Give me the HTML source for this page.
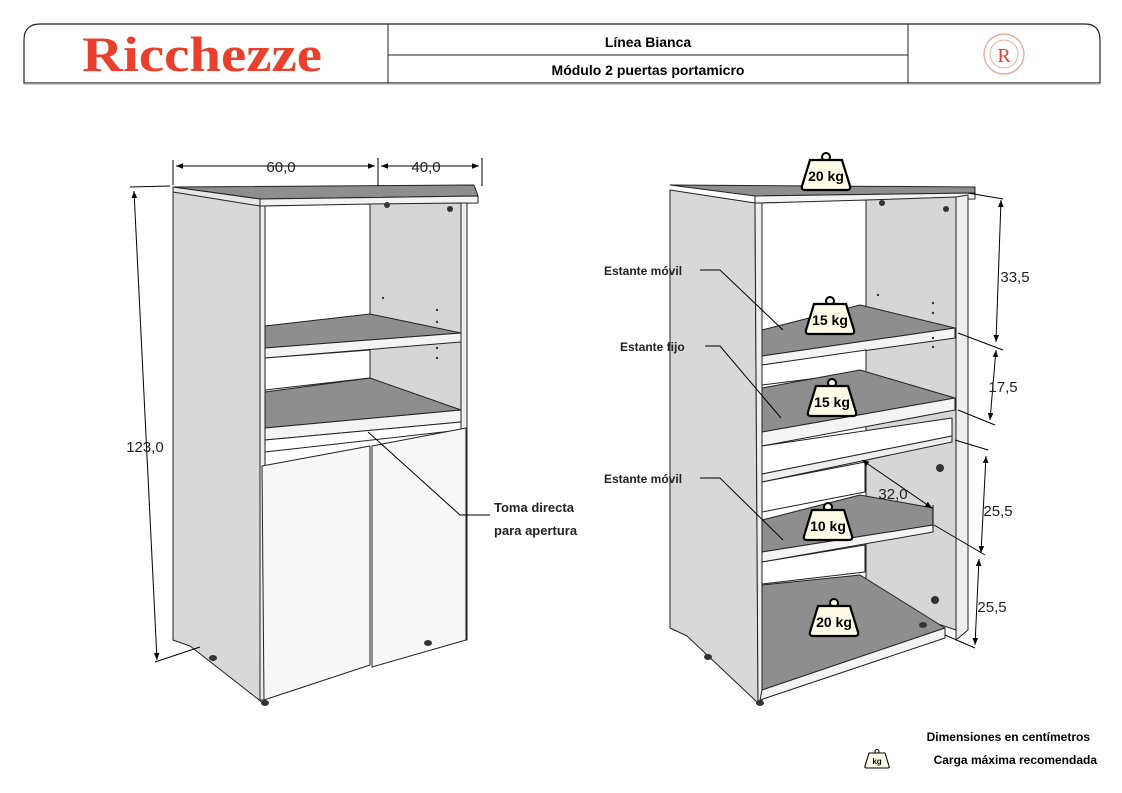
<!DOCTYPE html>
<html><head><meta charset="utf-8"><style>
html,body{margin:0;padding:0;background:#fff}
svg{display:block}
text{font-family:"Liberation Sans",sans-serif}
</style></head><body>
<svg width="1122" height="793" viewBox="0 0 1122 793" xmlns="http://www.w3.org/2000/svg">
<defs>
<marker id="ar" viewBox="0 0 10 10" refX="10" refY="5" markerWidth="7" markerHeight="7" orient="auto-start-reverse"><path d="M0,1 L10,5 L0,9 z" fill="#000"/></marker>
<g id="kg">
<circle cx="0" cy="-17" r="4" fill="#fffbe6" stroke="#000" stroke-width="2"/>
<path d="M-16,-14 L16,-14 L24,12 Q25,16 21,16 L-21,16 Q-25,16 -24,12 Z" fill="#fffbe6" stroke="#000" stroke-width="2.2"/>
</g>
</defs>
<!-- header -->
<path d="M40,24 H1085 Q1100,24 1100,40 V83 H24 V40 Q24,24 40,24 Z" fill="#fff" stroke="#222" stroke-width="1.2"/>
<line x1="388" y1="24" x2="388" y2="83" stroke="#222"/>
<line x1="908" y1="24" x2="908" y2="83" stroke="#222"/>
<line x1="388" y1="55" x2="908" y2="55" stroke="#222"/>
<line x1="24" y1="84" x2="1100" y2="84" stroke="#bbb" stroke-width="1.5"/>
<text x="82" y="71" font-size="50" font-weight="bold" fill="#e8402c" style="font-family:'Liberation Serif',serif" textLength="240" lengthAdjust="spacingAndGlyphs">Ricchezze</text>
<text x="648" y="47" text-anchor="middle" font-size="14" font-weight="bold">Línea Bianca</text>
<text x="648" y="75" text-anchor="middle" font-size="14" font-weight="bold">Módulo 2 puertas portamicro</text>
<circle cx="1004" cy="54" r="20" fill="none" stroke="#e8a090" stroke-width="1.2"/>
<circle cx="1004" cy="54" r="14" fill="none" stroke="#e8a090" stroke-width="0.8"/>
<text x="1004" y="62" text-anchor="middle" font-size="20" fill="#d6453a" style="font-family:'Liberation Serif',serif">R</text>

<!-- LEFT CABINET -->
<g stroke="#222" stroke-width="1" stroke-linejoin="round">
<polygon points="173,190 260,203 263,703 190,646 173,640" fill="#d8d8d8"/>
<polygon points="173,187 474,185 478,196 260,199" fill="#8e8e8e"/>
<polygon points="173,187 260,199 260,206 173,192" fill="#e6e6e6"/>
<polygon points="260,199 478,196 478,203 260,206" fill="#f4f4f4"/>
<polygon points="265,206 370,204 370,320 265,326" fill="#fff"/>
<polygon points="370,204 461,203 461,428 370,438" fill="#d6d6d6"/>
<polygon points="260,206 265,206 265,700 260,700" fill="#eee"/>
<polygon points="461,203 467,203 467,640 461,640" fill="#eee"/>
<polygon points="265,326 370,314 461,333 265,348" fill="#8e8e8e"/>
<polygon points="265,348 461,333 461,342 265,358" fill="#f4f4f4"/>
<polygon points="265,358 370,350 370,378 265,390" fill="#fff"/>
<polygon points="265,392 370,378 461,410 265,428" fill="#8e8e8e"/>
<polygon points="265,428 461,410 461,422 265,440" fill="#f4f4f4"/>
<polygon points="265,440 461,422 461,430 265,452" fill="#fff"/>
<polygon points="262,466 370,446 370,665 264,700" fill="#f7f7f7"/>
<polygon points="372,446 466,428 466,640 372,667" fill="#f7f7f7"/>
</g>
<g fill="#333"><circle cx="387" cy="205" r="3"/><circle cx="450" cy="209" r="3"/>
<circle cx="383" cy="298" r="1.2"/><circle cx="437" cy="310" r="1.2"/><circle cx="437" cy="322" r="1.2"/><circle cx="437" cy="348" r="1.2"/><circle cx="437" cy="358" r="1.2"/>
<ellipse cx="213" cy="658" rx="4" ry="3"/><ellipse cx="265" cy="703" rx="4" ry="3"/><ellipse cx="428" cy="643" rx="4" ry="3"/></g>
<!-- left dims -->
<g stroke="#000" stroke-width="1" fill="none">
<line x1="173" y1="160" x2="173" y2="185"/><line x1="378" y1="158" x2="378" y2="186"/><line x1="482" y1="158" x2="482" y2="186"/>
<line x1="176" y1="166" x2="375" y2="166" marker-start="url(#ar)" marker-end="url(#ar)"/>
<line x1="381" y1="166" x2="479" y2="166" marker-start="url(#ar)" marker-end="url(#ar)"/>
<line x1="130" y1="187" x2="170" y2="186"/><line x1="155" y1="662" x2="200" y2="647"/>
<line x1="134" y1="191" x2="157" y2="660" marker-start="url(#ar)" marker-end="url(#ar)"/>
<polyline points="368,432 460,515 490,515"/>
</g>
<g font-size="14" fill="#222">
<text x="281" y="172" text-anchor="middle" font-size="15">60,0</text>
<text x="426" y="172" text-anchor="middle" font-size="15">40,0</text>
<text x="145" y="452" text-anchor="middle" font-size="15">123,0</text>
<text x="494" y="512" font-weight="bold" font-size="13">Toma directa</text>
<text x="494" y="535" font-weight="bold" font-size="13">para apertura</text>
</g>

<!-- RIGHT CABINET -->
<g stroke="#222" stroke-width="1" stroke-linejoin="round">
<polygon points="670,190 755,203 758,703 687,636 670,628" fill="#d8d8d8"/>
<polygon points="670,185 975,187 975,193 755,196" fill="#8e8e8e"/>
<polygon points="755,196 975,193 975,199 755,203" fill="#f4f4f4"/>
<polygon points="762,203 866,200 866,310 762,330" fill="#fff"/>
<polygon points="866,200 956,197 956,630 866,600" fill="#d6d6d6"/>
<polygon points="755,203 762,203 762,700 758,703" fill="#eee"/>
<polygon points="956,197 968,195 968,630 956,640" fill="#eee"/>
<polygon points="762,330 860,305 955,328 762,356" fill="#8e8e8e"/>
<polygon points="762,356 955,328 955,338 762,365" fill="#f4f4f4"/>
<polygon points="762,365 866,350 866,372 762,385" fill="#fff"/>
<polygon points="762,388 860,370 955,398 762,432" fill="#8e8e8e"/>
<polygon points="762,432 955,398 955,410 762,446" fill="#f4f4f4"/>
<polygon points="762,446 952,418 952,436 762,474" fill="#fff"/>
<polygon points="762,474 952,436 952,442 762,482" fill="#eee"/>
<polygon points="762,482 865,462 865,492 762,512" fill="#fff"/>
<polygon points="762,520 860,495 933,508 933,525 762,552" fill="#8e8e8e"/>
<polygon points="762,552 933,525 933,532 762,562" fill="#f4f4f4"/>
<polygon points="762,562 865,545 865,572 762,584" fill="#fff"/>
<polygon points="762,585 860,575 945,628 762,690" fill="#8e8e8e"/>
<polygon points="762,690 945,628 945,638 760,700" fill="#f4f4f4"/>
</g>
<g fill="#333"><circle cx="882" cy="203" r="3"/><circle cx="946" cy="209" r="3"/>
<circle cx="878" cy="295" r="1.2"/><circle cx="933" cy="303" r="1.2"/><circle cx="933" cy="313" r="1.2"/><circle cx="933" cy="338" r="1.2"/><circle cx="933" cy="347" r="1.2"/>
<circle cx="940" cy="468" r="4"/><circle cx="935" cy="600" r="4"/>
<ellipse cx="708" cy="657" rx="4" ry="3"/><ellipse cx="760" cy="703" rx="4" ry="3"/><ellipse cx="923" cy="625" rx="4" ry="3"/></g>
<!-- right dims -->
<g stroke="#000" stroke-width="1" fill="none">
<line x1="968" y1="193" x2="1003" y2="199"/><line x1="958" y1="333" x2="1003" y2="350"/><line x1="958" y1="410" x2="995" y2="425"/>
<line x1="955" y1="440" x2="988" y2="450"/><line x1="934" y1="525" x2="985" y2="555"/><line x1="945" y1="635" x2="975" y2="648"/>
<line x1="1001" y1="200" x2="996" y2="342" marker-start="url(#ar)" marker-end="url(#ar)"/>
<line x1="996" y1="350" x2="990" y2="420" marker-start="url(#ar)" marker-end="url(#ar)"/>
<line x1="986" y1="456" x2="981" y2="553" marker-start="url(#ar)" marker-end="url(#ar)"/>
<line x1="979" y1="559" x2="975" y2="645" marker-start="url(#ar)" marker-end="url(#ar)"/>
<line x1="862" y1="460" x2="932" y2="508" marker-start="url(#ar)" marker-end="url(#ar)"/>
<line x1="933" y1="505" x2="933" y2="528"/>
<polyline points="700,270 720,270 783,330"/>
<polyline points="705,346 720,346 781,418"/>
<polyline points="700,478 720,478 783,540"/>
</g>
<g fill="#222">
<text x="1015" y="282" text-anchor="middle" font-size="15">33,5</text>
<text x="1003" y="392" text-anchor="middle" font-size="15">17,5</text>
<text x="998" y="516" text-anchor="middle" font-size="15">25,5</text>
<text x="893" y="499" text-anchor="middle" font-size="15">32,0</text>
<text x="992" y="612" text-anchor="middle" font-size="15">25,5</text>
<text x="604" y="275" font-size="12" font-weight="bold">Estante móvil</text>
<text x="620" y="351" font-size="12" font-weight="bold">Estante fijo</text>
<text x="604" y="483" font-size="12" font-weight="bold">Estante móvil</text>
</g>
<g font-size="14" font-weight="bold" text-anchor="middle">
<use href="#kg" x="826" y="174"/><text x="826" y="181">20 kg</text>
<use href="#kg" x="830" y="318"/><text x="830" y="325">15 kg</text>
<use href="#kg" x="832" y="400"/><text x="832" y="407">15 kg</text>
<use href="#kg" x="828" y="524"/><text x="828" y="531">10 kg</text>
<use href="#kg" x="834" y="620"/><text x="834" y="627">20 kg</text>
</g>
<!-- legend -->
<text x="1090" y="741" text-anchor="end" font-size="12" font-weight="bold">Dimensiones en centímetros</text>
<g transform="translate(877,760) scale(0.5)"><use href="#kg"/></g>
<text x="877" y="764" text-anchor="middle" font-size="8" font-weight="bold">kg</text>
<text x="1097" y="764" text-anchor="end" font-size="12" font-weight="bold">Carga máxima recomendada</text>
</svg>
</body></html>
